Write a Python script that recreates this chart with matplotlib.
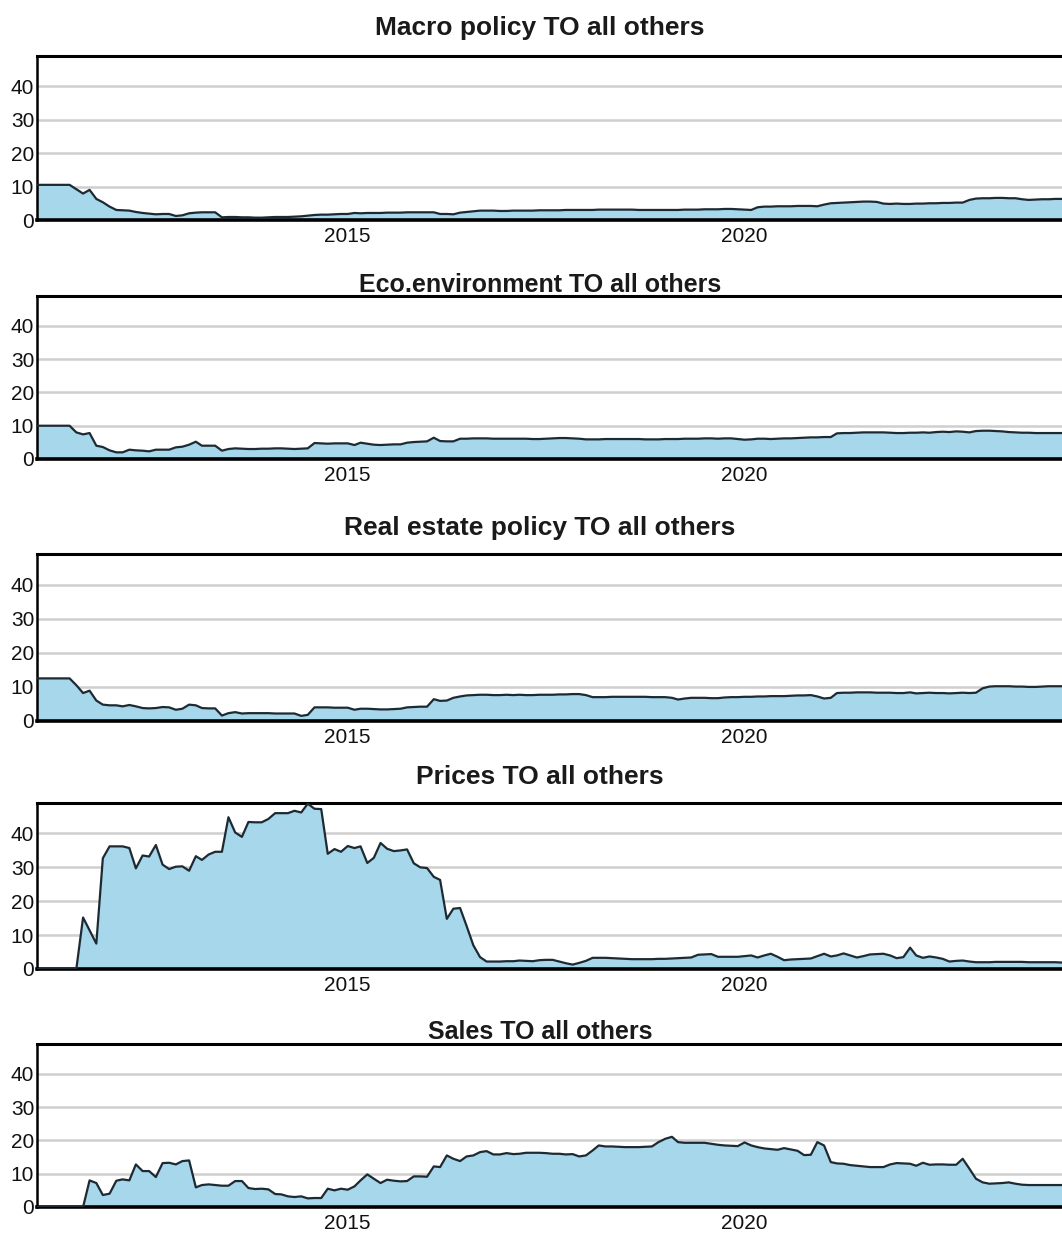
import matplotlib
matplotlib.use("Agg")
import matplotlib.pyplot as plt
import pandas as pd

plt.rcParams["font.family"] = ["Liberation Sans", "DejaVu Sans"]

# monthly spillover "TO all others", Feb 2011 .. Jan 2024
dates = pd.date_range("2011-02-01", periods=156, freq="MS")

macro_policy = [
    10.5, 10.5, 10.5, 10.5, 10.5, 10.5, 9.2, 7.9, 9.0, 6.3, 5.3, 4.0,
    3.0, 2.9, 2.8, 2.4, 2.1, 1.9, 1.7, 1.8, 1.8, 1.2, 1.4, 2.0,
    2.2, 2.3, 2.3, 2.3, 0.8, 0.9, 0.9, 0.8, 0.8, 0.7, 0.7, 0.8,
    0.9, 0.9, 0.9, 1.0, 1.1, 1.3, 1.5, 1.6, 1.6, 1.7, 1.8, 1.8,
    2.1, 2.0, 2.1, 2.1, 2.1, 2.2, 2.2, 2.2, 2.3, 2.3, 2.3, 2.3,
    2.3, 1.8, 1.8, 1.7, 2.2, 2.4, 2.6, 2.8, 2.8, 2.8, 2.7, 2.7,
    2.8, 2.8, 2.8, 2.8, 2.9, 2.9, 2.9, 2.9, 3.0, 3.0, 3.0, 3.0,
    3.0, 3.1, 3.1, 3.1, 3.1, 3.1, 3.1, 3.0, 3.0, 3.0, 3.0, 3.0,
    3.0, 3.0, 3.1, 3.1, 3.1, 3.2, 3.2, 3.2, 3.3, 3.3, 3.2, 3.1,
    3.0, 3.8, 4.0, 4.0, 4.1, 4.1, 4.1, 4.2, 4.2, 4.2, 4.1, 4.6,
    5.0, 5.1, 5.2, 5.3, 5.4, 5.5, 5.5, 5.4, 4.9, 4.8, 4.9, 4.8,
    4.8, 4.9, 4.9, 5.0, 5.0, 5.1, 5.1, 5.2, 5.2, 6.0, 6.4, 6.5,
    6.5, 6.6, 6.6, 6.5, 6.5, 6.2, 6.0, 6.1, 6.2, 6.2, 6.3, 6.3,
]

eco_environment = [
    10.0, 10.0, 10.0, 10.0, 10.0, 10.0, 8.0, 7.4, 7.8, 4.0, 3.6, 2.6,
    2.0, 2.0, 2.8, 2.6, 2.5, 2.3, 2.8, 2.8, 2.8, 3.5, 3.7, 4.3,
    5.2, 4.0, 4.0, 4.0, 2.5, 3.0, 3.2, 3.1, 3.0, 3.0, 3.1, 3.1,
    3.2, 3.2, 3.1, 3.0, 3.1, 3.2, 4.8, 4.7, 4.6, 4.7, 4.7, 4.7,
    4.2, 4.9, 4.6, 4.3, 4.2, 4.3, 4.4, 4.4, 4.9, 5.1, 5.2, 5.3,
    6.4, 5.4, 5.3, 5.3, 6.1, 6.1, 6.2, 6.2, 6.2, 6.1, 6.1, 6.1,
    6.1, 6.1, 6.1, 6.0, 6.0, 6.1, 6.2, 6.3, 6.3, 6.2, 6.1, 5.9,
    5.9, 5.9, 6.0, 6.0, 6.0, 6.0, 6.0, 6.0, 5.9, 5.9, 5.9, 6.0,
    6.0, 6.0, 6.1, 6.1, 6.1, 6.2, 6.2, 6.1, 6.2, 6.2, 6.0, 5.8,
    5.9, 6.1, 6.1, 6.0, 6.1, 6.2, 6.2, 6.3, 6.4, 6.5, 6.5, 6.6,
    6.6, 7.7, 7.8, 7.8, 7.9, 8.0, 8.0, 8.0, 8.0, 7.9, 7.8, 7.8,
    7.9, 7.9, 8.0, 7.9, 8.1, 8.2, 8.1, 8.3, 8.2, 8.0, 8.4, 8.5,
    8.5, 8.4, 8.3, 8.1, 8.0, 7.9, 7.9, 7.8, 7.8, 7.8, 7.8, 7.8,
]

real_estate_policy = [
    12.5, 12.5, 12.5, 12.5, 12.5, 12.5, 10.5, 8.2, 8.9, 6.0, 4.8, 4.6,
    4.6, 4.3, 4.7, 4.3, 3.8, 3.7, 3.8, 4.1, 4.0, 3.3, 3.6, 4.8,
    4.6, 3.8, 3.7, 3.7, 1.6, 2.3, 2.6, 2.2, 2.3, 2.3, 2.3, 2.3,
    2.2, 2.2, 2.2, 2.2, 1.5, 1.8, 4.0, 4.0, 4.0, 3.9, 3.9, 3.9,
    3.3, 3.6, 3.6, 3.5, 3.4, 3.4, 3.5, 3.6, 4.0, 4.1, 4.2, 4.2,
    6.4, 5.9, 6.0, 6.8, 7.2, 7.5, 7.6, 7.7, 7.7, 7.6, 7.6, 7.7,
    7.6, 7.7, 7.6, 7.6, 7.7, 7.7, 7.7, 7.8, 7.8, 7.9, 7.9, 7.6,
    7.0, 7.0, 7.0, 7.1, 7.1, 7.1, 7.1, 7.1, 7.1, 7.0, 7.0, 7.0,
    6.8, 6.3, 6.6, 6.8, 6.8, 6.8, 6.7, 6.7, 6.9, 7.0, 7.0, 7.1,
    7.1, 7.2, 7.2, 7.3, 7.3, 7.3, 7.4, 7.5, 7.5, 7.6, 7.2, 6.6,
    6.8, 8.2, 8.3, 8.3, 8.4, 8.4, 8.4, 8.3, 8.3, 8.3, 8.2, 8.2,
    8.4, 8.1, 8.2, 8.3, 8.2, 8.2, 8.1, 8.2, 8.3, 8.2, 8.3, 9.6,
    10.1, 10.2, 10.2, 10.2, 10.1, 10.1, 10.0, 10.0, 10.1, 10.2, 10.2, 10.2,
]

prices = [
    0, 0, 0, 0, 0, 0, 0, 15.2, 11.4, 7.5, 32.7, 36.2,
    36.2, 36.2, 35.7, 29.7, 33.5, 33.2, 36.6, 30.8, 29.5, 30.2, 30.3, 29.0,
    33.3, 32.2, 33.8, 34.6, 34.6, 44.8, 40.3, 39.0, 43.4, 43.3, 43.3, 44.3,
    46.0, 46.0, 46.0, 46.7, 46.2, 48.8, 47.3, 47.2, 34.0, 35.4, 34.6, 36.3,
    35.7, 36.2, 31.3, 32.8, 37.2, 35.5, 34.8, 35.0, 35.3, 31.2, 30.0, 29.8,
    27.2, 26.3, 14.8, 17.8, 18.0, 12.7, 7.0, 3.5, 2.2, 2.2, 2.2, 2.3,
    2.3, 2.5, 2.4, 2.3, 2.6, 2.7, 2.7, 2.2, 1.7, 1.3, 1.8, 2.4,
    3.3, 3.3, 3.3, 3.2, 3.1, 3.0, 2.9, 2.9, 2.9, 2.9, 3.0, 3.0,
    3.1, 3.2, 3.3, 3.4, 4.2, 4.3, 4.4, 3.6, 3.6, 3.6, 3.6, 3.8,
    4.0, 3.4, 4.0, 4.5, 3.6, 2.6, 2.8, 2.9, 3.0, 3.1, 3.8, 4.5,
    3.7, 4.0, 4.6, 4.0, 3.4, 3.8, 4.3, 4.4, 4.5, 4.0, 3.2, 3.5,
    6.3, 4.0, 3.3, 3.7, 3.4, 3.0, 2.2, 2.4, 2.5, 2.2, 2.0, 2.0,
    2.0, 2.1, 2.1, 2.1, 2.1, 2.1, 2.0, 2.0, 2.0, 2.0, 2.0, 1.9,
]

sales = [
    0, 0, 0, 0, 0, 0, 0, 0, 8.0, 7.2, 3.6, 4.0,
    7.9, 8.3, 8.0, 12.8, 10.8, 10.8, 9.0, 13.2, 13.3, 12.8, 13.8, 14.0,
    5.9, 6.6, 6.8, 6.6, 6.4, 6.4, 7.8, 7.8, 5.7, 5.4, 5.5, 5.3,
    3.9, 3.8, 3.2, 3.0, 3.2, 2.6, 2.7, 2.7, 5.5, 5.0, 5.5, 5.2,
    6.2, 8.0, 9.8, 8.5, 7.2, 8.2, 7.9, 7.7, 7.8, 9.2, 9.2, 9.1,
    12.2, 12.0, 15.5, 14.5, 13.8, 15.2, 15.5, 16.5, 16.8, 15.8, 15.8, 16.2,
    15.9, 16.0, 16.3, 16.3, 16.3, 16.2, 16.0, 16.0, 15.8, 15.9, 15.2, 15.5,
    17.0, 18.5, 18.2, 18.2, 18.1, 18.0, 18.0, 18.0, 18.1, 18.2, 19.5, 20.5,
    21.1, 19.5, 19.3, 19.3, 19.3, 19.3, 19.0, 18.7, 18.5, 18.4, 18.3, 19.4,
    18.5, 18.0, 17.6, 17.4, 17.2, 17.7, 17.3, 16.9, 15.6, 15.7, 19.5, 18.5,
    13.5, 13.1, 13.0, 12.6, 12.4, 12.2, 12.0, 12.0, 12.0, 12.8, 13.2, 13.1,
    13.0, 12.4, 13.3, 12.7, 12.8, 12.8, 12.7, 12.7, 14.5, 11.5, 8.5, 7.4,
    7.0, 7.1, 7.2, 7.4, 7.0, 6.7, 6.6, 6.6, 6.6, 6.6, 6.6, 6.6,
]

titles = [
    "Macro policy TO all others",
    "Eco.environment TO all others",
    "Real estate policy TO all others",
    "Prices TO all others",
    "Sales TO all others",
]
series = [macro_policy, eco_environment, real_estate_policy, prices, sales]

y_ticks = [0, 10, 20, 30, 40]
x_ticks = pd.to_datetime(["2015-01-01", "2020-01-01"])
x_labels = ["2015", "2020"]

# layout in pixels: (axes top, axes bottom, title centre, title size)
W, H = 1062, 1233
boxes = [(56, 220, 28, 19), (296, 459, 285, 18), (554, 721, 528, 19),
         (803, 969, 777, 19), (1044, 1207, 1032, 18)]
LEFT = 37

FILL = "#a6d7ea"
LINE = "#1e2a33"

fig = plt.figure(figsize=(W / 100, H / 100), dpi=100)

for title, vals, (top, bot, ty, tsize) in zip(titles, series, boxes):
    ax = fig.add_axes([LEFT / W, 1 - bot / H, (W - LEFT) / W, (bot - top) / H])
    ax.fill_between(dates, vals, 0, color=FILL, linewidth=0, zorder=2)
    ax.plot(dates, vals, color=LINE, linewidth=1.6, zorder=3)
    ax.set_xlim(dates[0], dates[-1])
    ax.set_ylim(0, 49)
    ax.set_yticks(y_ticks)
    ax.set_xticks(x_ticks)
    ax.set_xticklabels(x_labels)
    ax.tick_params(axis="both", length=0, labelsize=15, colors="#111111")
    ax.tick_params(axis="x", pad=5)
    ax.tick_params(axis="y", pad=2)
    ax.grid(axis="y", color="#cfcfcf", linewidth=1.8, zorder=1)
    ax.set_axisbelow(True)
    ax.spines["right"].set_visible(False)
    ax.spines["top"].set_linewidth(2.2)
    ax.spines["bottom"].set_linewidth(2.6)
    ax.spines["left"].set_linewidth(1.8)
    for s in ("top", "bottom", "left"):
        ax.spines[s].set_color("#000000")
    fig.text(540 / W, 1 - ty / H, title, ha="center", va="center",
             fontsize=tsize, fontweight="bold", color="#1a1a1a")

fig.savefig("out.png", dpi=100)
